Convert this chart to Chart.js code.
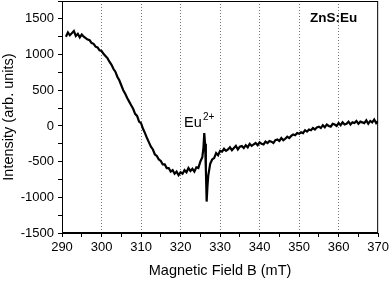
<!DOCTYPE html>
<html>
<head>
<meta charset="utf-8">
<script src="https://cdn.jsdelivr.net/npm/chart.js@4/dist/chart.umd.min.js"></script>
<style>
  html, body { margin: 0; padding: 0; background: #fff; }
  canvas { display: block; }
</style>
</head>
<body>
<canvas id="eprChart" width="392" height="282"></canvas>
<script>
// magnetic field (mT) and EPR intensity (arb. units)
const field = [
  291, 291.5, 292, 292.5, 293, 293.5, 294, 294.5, 295, 295.5,
  296, 296.5, 297, 297.5, 298, 298.5, 299, 299.5, 300, 300.5,
  301, 301.5, 302, 302.5, 303, 303.5, 304, 304.5, 305, 305.5,
  306, 306.5, 307, 307.5, 308, 308.5, 309, 309.5, 310, 310.5,
  311, 311.5, 312, 312.5, 313, 313.5, 314, 314.5, 315, 315.5,
  316, 316.5, 317, 317.5, 318, 318.5, 319, 319.5, 320, 320.5,
  321, 321.5, 322, 322.5, 323, 323.5, 324, 324.5, 325, 325.5,
  325.8, 326, 326.2, 326.4, 326.6, 326.8, 327, 327.5, 328, 328.5,
  329, 329.5, 330, 330.5, 331, 331.5, 332, 332.5, 333, 333.5,
  334, 334.5, 335, 335.5, 336, 336.5, 337, 337.5, 338, 338.5,
  339, 339.5, 340, 340.5, 341, 341.5, 342, 342.5, 343, 343.5,
  344, 344.5, 345, 345.5, 346, 346.5, 347, 347.5, 348, 348.5,
  349, 349.5, 350, 350.5, 351, 351.5, 352, 352.5, 353, 353.5,
  354, 354.5, 355, 355.5, 356, 356.5, 357, 357.5, 358, 358.5,
  359, 359.5, 360, 360.5, 361, 361.5, 362, 362.5, 363, 363.5,
  364, 364.5, 365, 365.5, 366, 366.5, 367, 367.5, 368, 368.5,
  369, 369.5, 370
];
const intensity = [
  1250, 1310, 1270, 1300, 1330, 1260, 1290, 1240, 1280, 1250,
  1230, 1210, 1200, 1160, 1150, 1110, 1100, 1060, 1050, 1010,
  980, 950, 900, 860, 800, 760, 690, 640, 570, 500,
  450, 390, 340, 290, 240, 170, 140, 60, 40, -40,
  -100, -170, -230, -290, -330, -400, -420, -470, -490, -540,
  -540, -590, -590, -640, -620, -670, -640, -690, -650, -670,
  -620, -650, -590, -630, -600, -640, -580, -590, -500, -440,
  -300, -100, -250, -600, -1060, -850, -700, -530, -470, -450,
  -380, -410, -350, -360, -320, -350, -330, -300, -340, -310,
  -280, -330, -290, -280, -310, -270, -300, -250, -280, -260,
  -240, -270, -230, -250, -260, -220, -240, -210, -220, -240,
  -200, -190, -210, -170, -200, -180, -150, -170, -140, -120,
  -130, -100, -110, -90, -100, -60, -80, -50, -60, -30,
  -50, -20, -10, -30, 10, -20, 20, 0, -10, 30,
  20, 0, 40, 10, 50, 20, 30, 60, 20, 50,
  40, 70, 30, 60, 50, 40, 80, 30, 70, 50,
  90, 40, 70
];
const xMin = 290, xMax = 370;
const yMin = -1500, yMax = 1750;

const points = field.map((b, i) => ({ x: b, y: intensity[i] }));

const FONT = '"Liberation Sans", Arial, sans-serif';

const frameAndLabels = {
  id: 'frameAndLabels',
  afterDatasetsDraw(chart) {
    const { ctx, chartArea: a } = chart;
    ctx.save();
    ctx.fillStyle = '#000';
    ctx.font = 'bold 13.5px ' + FONT;
    ctx.textAlign = 'right';
    ctx.textBaseline = 'middle';
    ctx.fillText('ZnS:Eu', a.right - 21, a.top + 17);

    ctx.textAlign = 'left';
    ctx.textBaseline = 'alphabetic';
    ctx.font = '14.5px ' + FONT;
    ctx.fillText('Eu', 184, 127);
    ctx.font = '10px ' + FONT;
    ctx.fillText('2+', 203, 120);

    ctx.strokeStyle = '#000';
    ctx.lineWidth = 1;
    ctx.strokeRect(a.left + 0.5, a.top + 0.5, a.right - a.left - 1, a.bottom - a.top - 1);
    ctx.restore();
  }
};

const ctx = document.getElementById('eprChart').getContext('2d');
const eprChart = new Chart(ctx, {
  type: 'line',
  data: {
    datasets: [{
      data: points,
      borderColor: '#000',
      borderWidth: 2.2,
      pointRadius: 0,
      tension: 0,
      fill: false
    }]
  },
  options: {
    responsive: false,
    animation: false,
    devicePixelRatio: 1,
    layout: { padding: { left: 0, right: 13, top: 1, bottom: 0 } },
    plugins: { legend: { display: false }, tooltip: { enabled: false } },
    scales: {
      x: {
        type: 'linear',
        min: xMin,
        max: xMax,
        afterFit: s => { s.height = 49; },
        ticks: {
          stepSize: 5,
          autoSkip: false,
          maxRotation: 0,
          padding: 3,
          color: '#000',
          font: { family: FONT, size: 13 },
          callback: v => (v % 10 === 0 ? String(v) : '')
        },
        grid: {
          color: c => (c.tick && c.tick.value % 10 === 0 && c.tick.value > xMin && c.tick.value < xMax) ? '#777' : 'rgba(0,0,0,0)',
          lineWidth: 1,
          tickLength: 4,
          tickColor: '#000',
          tickBorderDash: [],
          tickWidth: 1
        },
        border: { display: true, color: '#000', width: 1, dash: [1, 2] },
        title: {
          display: true,
          text: 'Magnetic Field B (mT)',
          color: '#000',
          font: { family: FONT, size: 14.5 },
          padding: { top: 0, bottom: 2 }
        }
      },
      y: {
        min: yMin,
        max: yMax,
        afterFit: s => { s.width = 62; s.paddingTop = 0; },
        ticks: {
          stepSize: 250,
          autoSkip: false,
          padding: 4,
          color: '#000',
          font: { family: FONT, size: 13 },
          callback: v => (v % 500 === 0 ? String(v) : '')
        },
        grid: {
          drawOnChartArea: false,
          tickLength: 4,
          tickColor: '#000',
          tickWidth: 1
        },
        border: { display: true, color: '#000', width: 1 },
        title: {
          display: true,
          text: 'Intensity (arb. units)',
          color: '#000',
          font: { family: FONT, size: 14.5 },
          padding: { top: 0, bottom: 0 }
        }
      }
    }
  },
  plugins: [frameAndLabels]
});
</script>
</body>
</html>
